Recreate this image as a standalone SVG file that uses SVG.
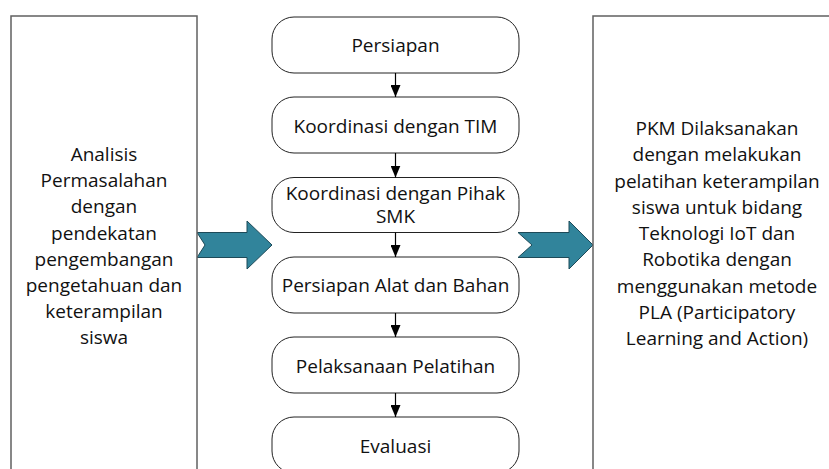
<svg xmlns="http://www.w3.org/2000/svg" width="829" height="469" viewBox="0 0 829 469">
<style>
.side{fill:#fff;stroke:#606060;stroke-width:1.5}
.step{fill:#fff;stroke:#222;stroke-width:1}
.big{fill:#31849b;stroke:#1d4a58;stroke-width:1}
.t{font-family:"Open Sans","Noto Sans",sans-serif;font-size:19px;fill:#111;text-anchor:middle}
.c{stroke:#000;stroke-width:1.2;fill:none;marker-end:url(#ah)}
</style>
<defs>
<marker id="ah" markerUnits="userSpaceOnUse" markerWidth="12" markerHeight="10" refX="12" refY="5" orient="auto" viewBox="0 0 12 10">
<path d="M0,0 L12,5 L0,10 z" fill="#000"/>
</marker>
</defs>
<rect width="829" height="469" fill="#fff"/>
<g id="arrow-left"><polygon class="big" points="197,232.5 247,232.5 247,221 272,245 247,269 247,257.5 197,257.5 205,245"/></g>
<g id="arrow-right"><polygon class="big" points="518,232.5 569,232.5 569,221 593,245 569,269 569,257.5 518,257.5 532,245"/></g>
<g id="left-box">
<rect class="side" x="11" y="16" width="186" height="470"/>
<text class="t"><tspan x="104" y="161">Analisis</tspan><tspan x="104" y="187.2">Permasalahan</tspan><tspan x="104" y="213.4">dengan</tspan><tspan x="104" y="239.6">pendekatan</tspan><tspan x="104" y="265.8">pengembangan</tspan><tspan x="104" y="292">pengetahuan dan</tspan><tspan x="104" y="318.2">keterampilan</tspan><tspan x="104" y="344.4">siswa</tspan></text>
</g>
<g id="right-box">
<rect class="side" x="593" y="16" width="250" height="470"/>
<text class="t"><tspan x="717" y="135">PKM Dilaksanakan</tspan><tspan x="717" y="161.25">dengan melakukan</tspan><tspan x="717" y="187.5">pelatihan keterampilan</tspan><tspan x="717" y="213.75">siswa untuk bidang</tspan><tspan x="717" y="240">Teknologi IoT dan</tspan><tspan x="717" y="266.25">Robotika dengan</tspan><tspan x="717" y="292.5">menggunakan metode</tspan><tspan x="717" y="318.75">PLA (Participatory</tspan><tspan x="717" y="345">Learning and Action)</tspan></text>
</g>
<g id="persiapan"><rect class="step" x="272" y="17" width="247" height="56" rx="22"/><text class="t" x="395.5" y="51.5">Persiapan</text></g>
<g id="koordinasi-tim"><rect class="step" x="272" y="97" width="247" height="56" rx="22"/><text class="t" x="395.5" y="132.5">Koordinasi dengan TIM</text></g>
<g id="koordinasi-smk"><rect class="step" x="272" y="177.5" width="247" height="55" rx="22"/><text class="t"><tspan x="395.5" y="199.5">Koordinasi dengan Pihak</tspan><tspan x="395.5" y="223">SMK</tspan></text></g>
<g id="alat-bahan"><rect class="step" x="272" y="257" width="247" height="56" rx="22"/><text class="t" x="395.5" y="292.3">Persiapan Alat dan Bahan</text></g>
<g id="pelaksanaan"><rect class="step" x="272" y="337" width="247" height="56" rx="22"/><text class="t" x="395.5" y="372.8">Pelaksanaan Pelatihan</text></g>
<g id="evaluasi"><rect class="step" x="272" y="417" width="247" height="56" rx="22"/><text class="t" x="395.5" y="452.5">Evaluasi</text></g>
<g id="connectors">
<line class="c" x1="395.5" y1="73" x2="395.5" y2="97"/>
<line class="c" x1="395.5" y1="153" x2="395.5" y2="177.5"/>
<line class="c" x1="395.5" y1="232.5" x2="395.5" y2="257"/>
<line class="c" x1="395.5" y1="313" x2="395.5" y2="337"/>
<line class="c" x1="395.5" y1="393" x2="395.5" y2="417"/>
</g>
</svg>
